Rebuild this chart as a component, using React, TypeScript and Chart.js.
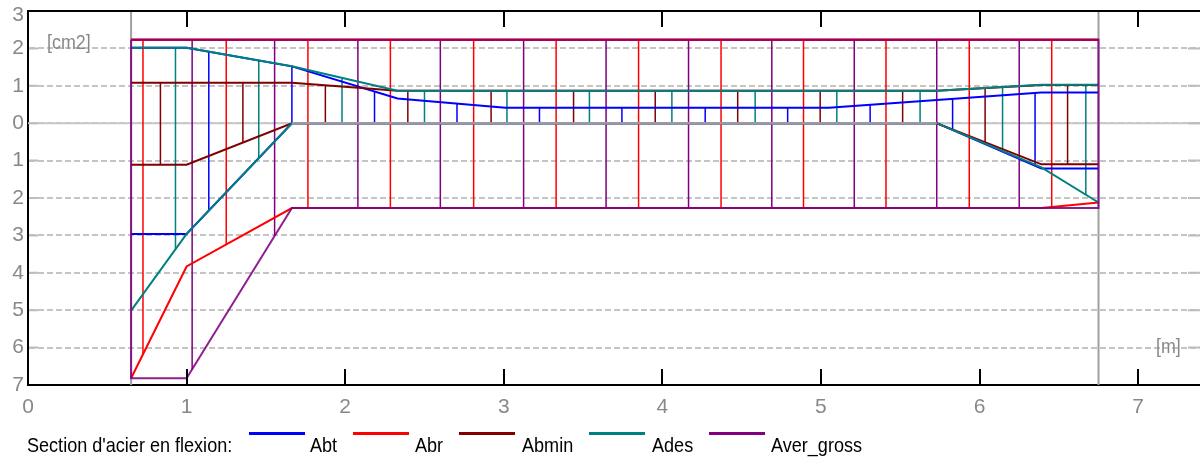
import React, { useEffect, useRef } from 'react';
import { Chart, registerables } from 'chart.js';

Chart.register(...registerables);

// ---------- axes ----------
const X_MIN = 0;
const X_MAX = 7.39;
const Y_MIN = -7;
const Y_MAX = 3;
const X_TICKS = [0, 1, 2, 3, 4, 5, 6, 7];
const Y_TICKS = [3, 2, 1, 0, -1, -2, -3, -4, -5, -6, -7];
const SUPPORTS = [0.65, 6.75];
const Y_UNIT = '[cm2]';
const X_UNIT = '[m]';
const LEGEND_TITLE = "Section d'acier en flexion:";

// ---------- series ----------
const SERIES_NAMES = ['Abt', 'Abr', 'Abmin', 'Ades', 'Aver_gross'];
const SERIES_COLORS = ['#0000ff', '#ff0000', '#800000', '#008080', '#800080'];

// Abt
const abtTopX = [0.65, 1.0, 1.664, 2.33, 3.01, 5.05, 6.39, 6.75];
const abtTopY = [2.02, 2.02, 1.52, 0.66, 0.41, 0.41, 0.82, 0.82];
const abtBotX = [0.65, 1.0, 1.664, 5.73, 6.39, 6.75];
const abtBotY = [-2.96, -2.96, 0, 0, -1.21, -1.21];
const abtHatchX = [1.14, 1.664, 2.185, 2.705, 3.225, 3.745, 4.27, 4.79, 5.31, 5.83, 6.35];

// Abr
const abrTopX = [0.65, 6.75];
const abrTopY = [2.23, 2.23];
const abrBotX = [0.65, 1.0, 1.664, 6.39, 6.75];
const abrBotY = [-6.82, -3.83, -2.27, -2.27, -2.12];
const abrHatchX = [0.725, 1.25, 1.765, 2.285, 2.81, 3.33, 3.85, 4.37, 4.89, 5.41, 5.935, 6.455];

// Abmin
const abminTopX = [0.65, 1.664, 2.33, 5.73, 6.39, 6.75];
const abminTopY = [1.08, 1.08, 0.87, 0.87, 1.02, 1.02];
const abminBotX = [0.65, 1.0, 1.664, 5.73, 6.39, 6.75];
const abminBotY = [-1.11, -1.11, 0, 0, -1.1, -1.1];
const abminHatchX = [0.835, 1.355, 1.875, 2.395, 2.92, 3.44, 3.955, 4.475, 4.995, 5.515, 6.035, 6.555];

// Ades
const adesTopX = [0.65, 1.0, 1.664, 2.33, 5.73, 6.39, 6.75];
const adesTopY = [2.02, 2.02, 1.52, 0.87, 0.87, 1.03, 1.03];
const adesBotX = [0.65, 1.0, 1.664, 5.73, 6.39, 6.75];
const adesBotY = [-5.01, -2.96, 0, 0, -1.18, -2.12];
const adesHatchX = [0.93, 1.455, 1.98, 2.5, 3.02, 3.54, 4.06, 4.585, 5.1, 5.625, 6.145, 6.67];

// Aver_gross
const averTopX = [0.65, 6.75];
const averTopY = [2.23, 2.23];
const averBotX = [0.65, 1.0, 1.664, 6.75];
const averBotY = [-6.82, -6.82, -2.27, -2.27];
const averHatchX = [1.035, 1.555, 2.08, 2.6, 3.125, 3.645, 4.165, 4.69, 5.21, 5.73, 6.25];

// ---------- helpers ----------
type P = { x: number; y: number | null };
const pts = (xs: number[], ys: number[]): P[] => xs.map((x, i) => ({ x, y: ys[i] }));

function valueAt(xs: number[], ys: number[], x: number): number {
  for (let i = 0; i < xs.length - 1; i++) {
    if (x <= xs[i + 1]) {
      const t = (x - xs[i]) / (xs[i + 1] - xs[i]);
      return ys[i] + (ys[i + 1] - ys[i]) * t;
    }
  }
  return ys[ys.length - 1];
}

function hatch(hx: number[], tx: number[], ty: number[], bx: number[], by: number[]): P[] {
  const out: P[] = [];
  hx.forEach((x) => {
    out.push({ x, y: valueAt(tx, ty, x) });
    out.push({ x, y: valueAt(bx, by, x) });
    out.push({ x, y: null });
  });
  return out;
}

function ds(label: string, data: P[], color: string, width: number) {
  return {
    label,
    data,
    borderColor: color,
    backgroundColor: color,
    borderWidth: width,
    pointRadius: 0,
    pointHoverRadius: 0,
    fill: false,
    spanGaps: false,
    tension: 0,
  };
}

const FONT = '"Liberation Sans", Arial, sans-serif';

function drawText(
  ctx: CanvasRenderingContext2D,
  text: string,
  x: number,
  y: number,
  sx: number,
  color: string,
  align: CanvasTextAlign = 'left',
  baseline: CanvasTextBaseline = 'alphabetic'
) {
  ctx.save();
  ctx.translate(x, y);
  ctx.scale(sx, 1);
  ctx.font = `21px ${FONT}`;
  ctx.fillStyle = color;
  ctx.textAlign = align;
  ctx.textBaseline = baseline;
  ctx.fillText(text, 0, 0);
  ctx.restore();
}

const decorPlugin = {
  id: 'decor',
  afterDraw(chart: any) {
    const { ctx, chartArea, scales } = chart;
    const xs = scales.x;
    const ys = scales.y;
    ctx.save();
    // top axis line
    ctx.strokeStyle = '#000';
    ctx.lineWidth = 2;
    ctx.beginPath();
    ctx.moveTo(chartArea.left - 1, chartArea.top);
    ctx.lineTo(chartArea.right, chartArea.top);
    ctx.stroke();
    // inward x ticks, top and bottom
    X_TICKS.forEach((v) => {
      if (v === 0) return;
      const px = Math.round(xs.getPixelForValue(v));
      ctx.beginPath();
      ctx.moveTo(px, chartArea.top);
      ctx.lineTo(px, chartArea.top + 16);
      ctx.moveTo(px, chartArea.bottom);
      ctx.lineTo(px, chartArea.bottom - 16);
      ctx.stroke();
    });
    // y side ticks
    ctx.strokeStyle = '#bdbdbd';
    Y_TICKS.forEach((v) => {
      if (v === Y_MIN || v === Y_MAX) return;
      const py = ys.getPixelForValue(v);
      ctx.beginPath();
      ctx.moveTo(chartArea.left + 1, py);
      ctx.lineTo(chartArea.left + 10, py);
      ctx.moveTo(chartArea.right - 12, py);
      ctx.lineTo(chartArea.right, py);
      ctx.stroke();
    });
    // top tick label, kept inside the page
    drawText(ctx, String(Math.abs(Y_MAX)), chartArea.left - 4, ys.getPixelForValue(Y_MAX) + 4, 1, '#888888', 'right', 'middle');
    // unit labels
    drawText(ctx, Y_UNIT, 47, 49, 0.85, '#888888');
    drawText(ctx, X_UNIT, 1156, 353, 0.85, '#888888');
    // legend
    drawText(ctx, LEGEND_TITLE, 27, 451.5, 0.86, '#000000');
    const sampleX = [249, 353, 459, 589, 709];
    const textX = [310, 415, 522, 652, 771];
    SERIES_NAMES.forEach((name, i) => {
      ctx.strokeStyle = SERIES_COLORS[i];
      ctx.lineWidth = 3;
      ctx.beginPath();
      ctx.moveTo(sampleX[i], 433.5);
      ctx.lineTo(sampleX[i] + 56, 433.5);
      ctx.stroke();
      drawText(ctx, name, textX[i], 451.5, 0.86, '#000000');
    });
    ctx.restore();
  },
};

export default function App() {
  const ref = useRef<HTMLCanvasElement | null>(null);

  useEffect(() => {
    if (!ref.current) return;

    const averOutline: P[] = [
      ...pts(averTopX, averTopY),
      ...pts(averBotX, averBotY).reverse(),
      { x: averTopX[0], y: averTopY[0] },
    ];

    // span where the lower curves sit on the beam axis
    const axisSpan = pts([abtBotX[2], abtBotX[3]], [0, 0]);

    // bottom -> top drawing order
    const layers = [
      ds('zero', pts([X_MIN, X_MAX], [0, 0]), '#c8c8c8', 2),
      ds('support1', pts([SUPPORTS[0], SUPPORTS[0]], [Y_MAX, Y_MIN]), '#a0a0a0', 2),
      ds('support2', pts([SUPPORTS[1], SUPPORTS[1]], [Y_MAX, Y_MIN]), '#a0a0a0', 2),
      ds('Abt hatch', hatch(abtHatchX, abtTopX, abtTopY, abtBotX, abtBotY), SERIES_COLORS[0], 1.5),
      ds('Abr hatch', hatch(abrHatchX, abrTopX, abrTopY, abrBotX, abrBotY), SERIES_COLORS[1], 1.5),
      ds('Abmin hatch', hatch(abminHatchX, abminTopX, abminTopY, abminBotX, abminBotY), SERIES_COLORS[2], 1.5),
      ds('Ades hatch', hatch(adesHatchX, adesTopX, adesTopY, adesBotX, adesBotY), SERIES_COLORS[3], 1.5),
      ds('Aver hatch', hatch(averHatchX, averTopX, averTopY, averBotX, averBotY), SERIES_COLORS[4], 1.5),
      ds('Abt top', pts(abtTopX, abtTopY), SERIES_COLORS[0], 2),
      ds('Abt bot', pts(abtBotX, abtBotY), SERIES_COLORS[0], 2),
      ds('Abr top', pts(abrTopX, abrTopY), SERIES_COLORS[1], 2.5),
      ds('Abr bot', pts(abrBotX, abrBotY), SERIES_COLORS[1], 2),
      ds('Abmin top', pts(abminTopX, abminTopY), SERIES_COLORS[2], 2),
      ds('Abmin bot', pts(abminBotX, abminBotY), SERIES_COLORS[2], 2),
      ds('Ades top', pts(adesTopX, adesTopY), SERIES_COLORS[3], 2),
      ds('Ades bot', pts(adesBotX, adesBotY), SERIES_COLORS[3], 2),
      ds('beam axis', axisSpan, '#9a9aa6', 2.5),
      ds('Aver_gross', averOutline, 'rgba(128,0,128,0.88)', 2),
    ];
    const datasets = layers.map((d, i) => ({ ...d, order: layers.length - i }));

    const chart = new Chart(ref.current, {
      type: 'line',
      data: { datasets: datasets as any },
      plugins: [decorPlugin as any],
      options: {
        responsive: false,
        animation: false,
        devicePixelRatio: 1,
        events: [],
        layout: { padding: { top: 11, left: 0, right: 0, bottom: 0 } },
        plugins: { legend: { display: false }, tooltip: { enabled: false } },
        scales: {
          x: {
            type: 'linear',
            min: X_MIN,
            max: X_MAX,
            position: 'bottom',
            grid: { display: false, drawTicks: false },
            border: { display: true, color: '#000000', width: 2 },
            ticks: {
              stepSize: 1,
              includeBounds: false,
              autoSkip: false,
              maxRotation: 0,
              color: '#888888',
              padding: 10,
              font: { family: FONT, size: 21 },
            },
            afterFit: (s: any) => {
              s.height = 74;
              s.paddingLeft = 0;
              s.paddingRight = 0;
            },
          },
          y: {
            type: 'linear',
            min: Y_MIN,
            max: Y_MAX,
            grid: { color: '#c4c4c4', lineWidth: 2, drawTicks: false },
            border: { display: true, color: '#000000', width: 2, dash: [6, 3] },
            ticks: {
              stepSize: 1,
              color: '#888888',
              padding: 4,
              font: { family: FONT, size: 21 },
              callback: (v: any) => (Number(v) === Y_MAX ? '' : String(Math.abs(Number(v)))),
            },
            afterFit: (s: any) => {
              s.width = 28;
              s.paddingTop = 0;
              s.paddingBottom = 0;
            },
          },
        },
      } as any,
    });

    return () => chart.destroy();
  }, []);

  return (
    <div style={{ position: 'absolute', left: 0, top: 0, width: 1200, height: 459, background: '#fff' }}>
      <canvas ref={ref} width={1200} height={459} style={{ display: 'block' }} />
    </div>
  );
}
